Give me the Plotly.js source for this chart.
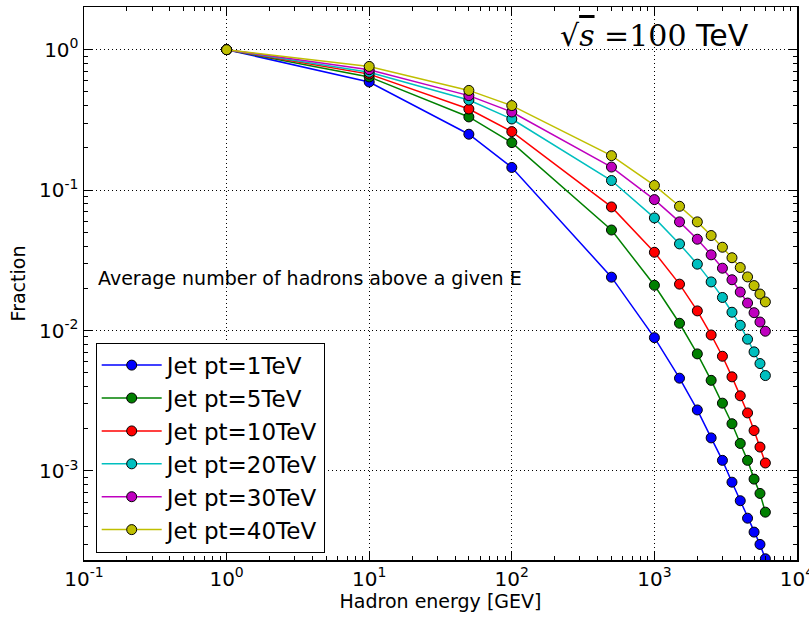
<!DOCTYPE html>
<html>
<head>
<meta charset="utf-8">
<script src="https://cdn.plot.ly/plotly-3.0.1.min.js"></script>
<style>html,body{margin:0;padding:0;background:#fff;}#chart{width:809px;height:617px;}</style>
</head>
<body>
<div id="chart"></div>
<script>
// Hadron energy [GeV]
const energies = [1, 10, 50, 100, 500, 1000, 1500, 2000, 2500, 3000, 3500, 4000, 4500, 5000, 5500, 6000];

const seriesNames = ['Jet pt=1TeV', 'Jet pt=5TeV', 'Jet pt=10TeV', 'Jet pt=20TeV', 'Jet pt=30TeV', 'Jet pt=40TeV'];
const seriesColors = ['#0000ff', '#008000', '#ff0000', '#00bfbf', '#bf00bf', '#bfbf00'];

const pt1TeV  = [1, 0.589, 0.250, 0.145, 0.0240, 0.00890, 0.00458, 0.00272, 0.00172, 0.00119, 0.000832, 0.000614, 0.000461, 0.000367, 0.000300, 0.000237];
const pt5TeV  = [1, 0.640, 0.332, 0.218, 0.0520, 0.0210, 0.01127, 0.00682, 0.00442, 0.00304, 0.00217, 0.00157, 0.00119, 0.000875, 0.000692, 0.000509];
const pt10TeV = [1, 0.670, 0.378, 0.261, 0.0759, 0.0361, 0.0214, 0.0138, 0.00930, 0.00656, 0.00468, 0.00343, 0.00259, 0.00194, 0.00148, 0.00114];
const pt20TeV = [1, 0.690, 0.438, 0.321, 0.117, 0.0634, 0.0414, 0.0297, 0.0222, 0.0172, 0.0135, 0.0109, 0.00868, 0.00705, 0.00582, 0.00478];
const pt30TeV = [1, 0.720, 0.471, 0.360, 0.146, 0.0856, 0.0594, 0.0447, 0.0346, 0.0278, 0.0230, 0.0188, 0.0157, 0.0134, 0.0115, 0.00989];
const pt40TeV = [1, 0.760, 0.513, 0.400, 0.176, 0.108, 0.0767, 0.0594, 0.0475, 0.0392, 0.0330, 0.0281, 0.0241, 0.0209, 0.0182, 0.0160];

const seriesValues = [pt1TeV, pt5TeV, pt10TeV, pt20TeV, pt30TeV, pt40TeV];

const xTickVals = [0.1, 1, 10, 100, 1000, 10000];
const xTickText = ['10<sup>-1</sup>', '10<sup>0</sup>', '10<sup>1</sup>', '10<sup>2</sup>', '10<sup>3</sup>', '10<sup>4</sup>'];
const yTickVals = [0.001, 0.01, 0.1, 1];
const yTickText = ['10<sup>-3</sup>', '10<sup>-2</sup>', '10<sup>-1</sup>', '10<sup>0</sup>'];

// minor tick positions (2..9 within each decade)
function minorTicks(lo, hi) {
  const out = [];
  for (let e = lo; e < hi; e++) {
    for (let m = 2; m <= 9; m++) out.push(m * Math.pow(10, e));
  }
  return out;
}

const traces = seriesValues.map((vals, i) => ({
  type: 'scatter',
  mode: 'lines+markers',
  x: energies,
  y: vals,
  name: seriesNames[i],
  legendgroup: 'g' + i,
  line: {color: seriesColors[i], width: 1.5},
  marker: {color: seriesColors[i], size: 10, line: {color: '#000', width: 1}}
}));

const axisCommon = {
  type: 'log',
  showline: true,
  linecolor: '#000',
  linewidth: 1.5,
  mirror: 'allticks',
  ticks: 'inside',
  ticklen: 8,
  tickwidth: 1,
  tickcolor: '#000',
  showgrid: true,
  gridcolor: '#000',
  gridwidth: 1,
  griddash: '1px,3px',
  zeroline: false,
  tickmode: 'array',
  ticklabeloverflow: 'allow',
  tickfont: {family: 'DejaVu Sans', size: 20, color: '#000'}
};

const layout = {
  width: 809,
  height: 617,
  margin: {l: 84, r: 12, t: 7, b: 57},
  paper_bgcolor: '#fff',
  plot_bgcolor: '#fff',
  font: {family: 'DejaVu Sans', color: '#000'},
  showlegend: true,
  legend: {
    x: 0.0164, y: 0.393, xanchor: 'left', yanchor: 'top',
    bordercolor: '#000', borderwidth: 1, bgcolor: '#fff',
    font: {family: 'DejaVu Sans', size: 23, color: '#000'},
    tracegroupgap: 0,
    itemwidth: 60
  },
  xaxis: Object.assign({}, axisCommon, {
    range: [-1, 4],
    tickvals: xTickVals,
    ticktext: xTickText,
    minor: {tickmode: 'array', tickvals: minorTicks(-1, 4), ticks: 'inside', ticklen: 4, tickcolor: '#000', tickwidth: 1, showgrid: false},
    title: {text: 'Hadron energy [GEV]', font: {family: 'DejaVu Sans', size: 19, color: '#000'}, standoff: 4}
  }),
  yaxis: Object.assign({}, axisCommon, {
    range: [-3.634, 0.304],
    tickvals: yTickVals,
    ticktext: yTickText,
    minor: {tickmode: 'array', tickvals: minorTicks(-4, 1), ticks: 'inside', ticklen: 4, tickcolor: '#000', tickwidth: 1, showgrid: false},
    title: {text: 'Fraction', font: {family: 'DejaVu Sans', size: 19, color: '#000'}, standoff: 8}
  }),
  annotations: [
    {
      xref: 'paper', yref: 'paper', x: 0.0168, y: 0.510, xanchor: 'left', yanchor: 'middle',
      text: 'Average number of hadrons above a given E', showarrow: false,
      font: {family: 'DejaVu Sans', size: 19, color: '#000'}
    },
    {
      xref: 'paper', yref: 'paper', x: 0.665, y: 0.948, xanchor: 'left', yanchor: 'middle',
      text: '<span style="font-family:DejaVu Serif">√<span style="text-decoration:overline"><i>s</i></span> =100</span> TeV', showarrow: false,
      font: {family: 'DejaVu Sans', size: 30, color: '#000'}
    }
  ]
};

Plotly.newPlot('chart', traces, layout, {staticPlot: true, displayModeBar: false});
</script>
</body>
</html>
